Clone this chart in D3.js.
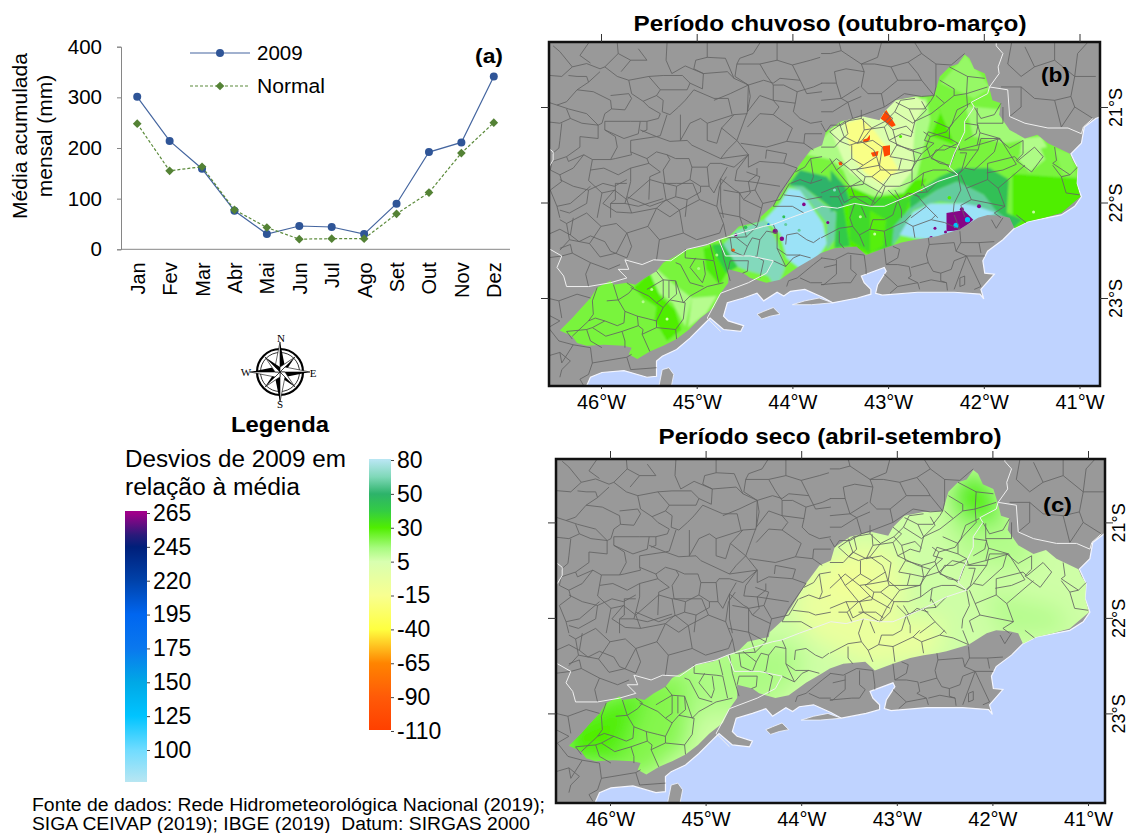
<!DOCTYPE html>
<html>
<head>
<meta charset="utf-8">
<script src="https://cdnjs.cloudflare.com/ajax/libs/d3/7.8.5/d3.min.js"></script>
<style>
  body { margin: 0; background: #fff; }
  svg { display: block; font-family: "Liberation Sans", Arial, sans-serif; }
</style>
</head>
<body>
<svg id="chart" width="1130" height="833"></svg>
<script>
// chart (a)
const months = ['Jan','Fev','Mar','Abr','Mai','Jun','Jul','Ago','Set','Out','Nov','Dez'];
const rain2009 = [301,214,159,76,30,46,44,30,90,192,211,341];
const rainNormal = [248,155,163,78,43,20,21,21,70,112,190,250];
const rainTicks = [0,100,200,300,400];

// legend
const legendHigh = [265,245,220,195,175,150,125,100];
const legendLow = [80,50,30,5,-15,-40,-65,-90,-110];
const devStops = [-110,-90,-65,-40,-15,5,15,30,40,50,65,80,100,125,150,175,195,220,245,252,265];
const devColors = ['#ff4000','#ff5a08','#ff8400','#ffff40','#f8ff90','#d8ffb0','#a8fb80','#50ee00','#33cc44','#2db36a','#7fd8b8','#b8e6f2','#70dcff','#00c4ff','#00a8e6','#0a78ee','#0066f0','#0042aa','#001f7a','#2a1a7a','#a0008a'];

// maps, positions in degrees west / degrees south
const lonTicks = [46,45,44,43,42,41];
const latTicks = [21,22,23];

const basin = [[46.43,23.34],[46.3,23.21],[46.22,23.12],[46.11,23.0],[46.04,22.89],[45.9,22.82],[45.87,22.86],[45.73,22.84],[45.64,22.86],[45.54,22.79],[45.42,22.72],[45.35,22.63],[45.22,22.56],[45.1,22.49],[44.93,22.46],[44.77,22.39],[44.65,22.34],[44.56,22.25],[44.34,22.2],[44.33,22.15],[44.2,22.03],[44.11,21.9],[43.95,21.64],[43.81,21.45],[43.69,21.4],[43.65,21.26],[43.49,21.15],[43.35,21.12],[43.26,21.1],[43.09,21.14],[43.04,21.05],[42.92,20.93],[42.72,20.89],[42.52,20.88],[42.46,20.68],[42.36,20.58],[42.27,20.55],[42.2,20.45],[42.15,20.49],[42.1,20.6],[41.99,20.65],[41.94,20.81],[41.91,20.93],[41.82,20.96],[41.84,21.08],[41.73,21.24],[41.57,21.33],[41.44,21.29],[41.33,21.38],[41.1,21.49],[41.07,21.56],[41.02,21.64],[41.03,21.8],[40.99,21.94],[41.19,22.11],[41.37,22.16],[41.54,22.2],[41.68,22.27],[41.73,22.16],[41.82,22.14],[41.96,22.13],[42.06,22.16],[42.25,22.28],[42.48,22.35],[42.58,22.37],[42.72,22.39],[42.86,22.42],[43.04,22.48],[43.23,22.55],[43.33,22.46],[43.56,22.48],[43.7,22.53],[43.78,22.58],[43.95,22.68],[44.13,22.81],[44.27,22.84],[44.44,22.79],[44.51,22.74],[44.67,22.7],[44.67,22.84],[44.75,22.95],[44.82,23.1],[44.96,23.21],[45.08,23.33],[45.21,23.43],[45.35,23.5],[45.49,23.56],[45.62,23.64],[45.71,23.59],[45.68,23.52],[45.76,23.5],[45.97,23.49],[46.15,23.5],[46.25,23.47],[46.3,23.4]];

const ocean = [[46.13,24.05],[46.15,23.92],[46.11,23.83],[45.99,23.78],[45.76,23.76],[45.52,23.83],[45.42,23.82],[45.42,23.66],[45.36,23.61],[45.21,23.54],[45.07,23.42],[44.93,23.28],[44.86,23.21],[44.72,23.33],[44.54,23.35],[44.51,23.29],[44.67,23.24],[44.72,23.19],[44.68,23.05],[44.51,23.0],[44.37,22.95],[44.3,23.03],[44.16,22.94],[44.09,22.98],[44.02,22.93],[43.87,22.91],[43.69,22.99],[43.58,23.05],[43.32,23.0],[43.18,22.96],[43.18,22.91],[43.25,22.84],[43.28,22.77],[43.04,22.68],[43.02,22.72],[43.11,22.86],[43.13,22.95],[43.06,22.97],[42.69,22.94],[42.31,22.94],[42.04,22.96],[42.0,23.01],[42.03,22.91],[41.89,22.75],[41.99,22.74],[42.01,22.61],[41.96,22.51],[41.8,22.39],[41.68,22.27],[41.54,22.2],[41.19,22.13],[41.05,22.04],[40.98,21.94],[41.03,21.8],[41.02,21.64],[41.09,21.49],[40.98,21.38],[40.95,21.21],[40.83,21.12],[40.5,21.0],[40.5,24.05]];

const islands = [
  [[44.37,23.17],[44.3,23.14],[44.2,23.1],[44.13,23.17],[44.23,23.19],[44.32,23.22]],
  [[44.0,23.07],[43.87,23.03],[43.72,23.0],[43.58,23.05],[43.8,23.07]],
  [[45.42,24.05],[45.36,23.75],[45.29,23.73],[45.24,23.8],[45.29,24.05]]
];

const stateLines = [
  [[41.87,20.3],[41.87,20.36],[41.8,20.44],[41.85,20.58],[41.84,20.65],[41.94,20.79],[41.75,20.82],[41.73,21.1],[41.57,21.17],[41.33,21.22],[41.12,21.22],[40.98,21.28],[40.96,21.21],[40.86,21.12]],
  [[41.94,20.79],[41.96,20.86],[42.13,20.95],[42.1,21.0],[42.2,21.15],[42.2,21.26],[42.31,21.49],[42.36,21.63],[42.27,21.71],[42.48,21.78],[42.76,21.92],[43.04,22.04],[43.18,22.04],[43.35,22.01],[43.53,22.06],[43.69,22.04],[43.88,22.11],[44.02,22.16],[44.2,22.23],[44.3,22.25],[44.61,22.34],[44.77,22.39],[44.89,22.44],[45.1,22.49],[45.27,22.61],[45.45,22.6],[45.57,22.65],[45.75,22.6],[45.71,22.7],[45.82,22.7],[45.73,22.79],[45.9,22.84],[46.13,22.88],[46.36,22.88],[46.39,22.77],[46.46,22.68],[46.41,22.56],[46.55,22.48]],
  [[44.77,22.39],[44.7,22.56],[44.44,22.56],[44.2,22.61],[44.27,22.74],[44.46,22.84],[44.75,22.95],[44.89,23.21],[44.75,23.35]],
  [[46.55,21.43],[46.5,21.47],[46.5,21.555],[46.55,21.64]]
];

const municipios = [
  [[46.565,20.667],[46.41,20.68],[46.3,20.58],[46.43,20.42],[46.5,20.36]],
  [[46.3,20.58],[46.15,20.545],[46.01,20.6],[45.96,20.58],[45.82,20.44],[45.83,20.33]],
  [[45.96,20.58],[45.83,20.68],[45.71,20.72],[45.5,20.68],[45.35,20.67],[45.15,20.67],[45.07,20.75],[44.94,20.81],[44.93,20.65],[45.05,20.6],[45.12,20.57],[45.26,20.65]],
  [[45.31,20.33],[45.32,20.51],[45.26,20.65]],
  [[44.89,20.33],[44.89,20.48],[45.01,20.51],[45.03,20.6],[44.93,20.65],[44.68,20.63],[44.61,20.7],[44.46,20.77]],
  [[44.89,20.48],[44.7,20.49],[44.61,20.7]],
  [[44.58,20.55],[44.55,20.49],[44.41,20.44],[44.34,20.33]],
  [[44.46,20.77],[44.3,20.72],[44.2,20.75],[44.13,20.7],[43.92,20.72],[43.85,20.86],[43.69,20.84]],
  [[46.565,20.946],[46.46,20.98],[46.36,20.945],[46.25,20.82],[46.13,20.74],[46.15,20.68],[46.25,20.68],[46.34,20.67]],
  [[46.13,20.74],[46.01,20.63]],
  [[46.25,20.82],[46.08,20.84],[45.9,20.93],[45.89,21.02],[45.75,21.03],[45.68,20.91],[45.71,20.86],[45.9,20.88]],
  [[45.71,20.72],[45.68,20.86],[45.56,20.94],[45.42,20.88],[45.38,20.82],[45.5,20.68]],
  [[45.38,20.82],[45.1,20.82],[45.07,20.75]],
  [[45.42,20.88],[45.35,20.93],[45.36,21.05],[45.28,21.08],[45.19,21.0],[45.12,20.93],[45.03,20.82]],
  [[45.56,20.94],[45.5,21.0],[45.38,21.07],[45.4,21.12],[45.52,21.15],[45.52,21.24],[45.57,21.26]],
  [[45.89,21.02],[45.96,21.07],[45.99,21.17],[46.03,21.19],[46.15,21.07],[46.34,21.02],[46.46,20.98]],
  [[45.96,21.15],[45.69,21.15],[45.59,21.15],[45.52,21.15]],
  [[46.03,21.19],[46.2,21.17],[46.32,21.12],[46.36,21.02]],
  [[46.565,21.155],[46.43,21.17],[46.32,21.12]],
  [[46.41,21.17],[46.43,21.35],[46.44,21.43],[46.51,21.49]],
  [[46.03,21.19],[46.03,21.33],[46.22,21.31],[46.22,21.42],[46.36,21.52],[46.34,21.57],[46.18,21.5],[46.09,21.55],[45.9,21.55],[45.83,21.42],[45.85,21.31],[45.96,21.24],[45.96,21.15]],
  [[45.96,21.24],[45.76,21.33],[45.61,21.28],[45.59,21.15]],
  [[45.69,21.35],[45.42,21.31],[45.28,21.36],[45.1,21.35],[45.05,21.4],[44.75,21.54],[44.46,21.5]],
  [[45.69,21.35],[45.69,21.47],[45.52,21.54],[45.42,21.47],[45.31,21.5],[45.22,21.54],[45.08,21.54],[45.05,21.63],[44.89,21.63],[44.86,21.59],[44.75,21.59],[44.61,21.63],[44.46,21.5]],
  [[45.59,21.24],[45.42,21.31],[45.38,21.3],[45.31,21.08]],
  [[45.17,21.08],[45.17,21.35],[45.07,21.17],[44.96,21.12],[44.89,21.17],[44.61,21.08],[44.47,21.07]],
  [[44.89,21.17],[44.89,21.35],[44.79,21.38],[44.74,21.22],[44.61,21.08]],
  [[44.82,20.93],[44.65,20.86],[44.46,20.77],[44.47,21.05],[44.54,21.24],[44.58,21.35],[44.46,21.5]],
  [[45.03,20.82],[44.82,20.91],[44.67,20.91],[44.63,21.08]],
  [[44.74,21.22],[44.58,21.35],[44.68,21.45],[44.75,21.54]],
  [[44.54,21.38],[44.27,21.42],[44.06,21.36],[44.0,21.22],[44.2,21.08],[44.34,21.07],[44.47,21.21]],
  [[44.46,20.77],[44.44,20.89],[44.47,21.05],[44.34,20.88],[44.2,20.93],[44.14,21.0],[44.2,21.08]],
  [[44.2,20.77],[44.2,20.93],[43.97,20.96],[43.95,20.84],[44.09,20.77],[44.2,20.77]],
  [[43.95,20.84],[43.78,20.79],[43.69,20.75]],
  [[44.58,20.55],[44.6,20.68],[44.46,20.77]],
  [[44.58,20.55],[44.34,20.55],[44.27,20.67],[44.2,20.77]],
  [[44.34,20.55],[44.16,20.51],[44.0,20.56],[43.92,20.72]],
  [[44.16,20.51],[44.16,20.33]],
  [[44.0,20.56],[43.81,20.51],[43.71,20.48]],
  [[43.97,20.96],[43.99,21.05],[43.92,21.12],[43.81,21.17],[43.69,21.15]],
  [[44.06,21.36],[43.88,21.38],[43.78,21.45]],
  [[43.88,21.38],[43.87,21.28],[43.69,21.28]],
  [[44.46,21.5],[44.46,21.63],[44.34,21.57],[44.09,21.59],[44.06,21.49],[44.27,21.45],[44.28,21.54]],
  [[44.46,21.5],[44.58,21.66],[44.6,21.77],[44.46,21.78],[44.44,21.9],[44.51,21.97],[44.32,22.06]],
  [[44.09,21.59],[43.95,21.64],[44.13,21.9],[44.2,22.04]],
  [[44.37,21.64],[44.37,21.71],[44.46,21.78],[44.13,21.83]],
  [[44.75,21.75],[44.68,21.63]],
  [[44.75,21.75],[44.6,21.87],[44.56,21.89],[44.51,21.97]],
  [[44.89,21.63],[44.87,21.83],[44.82,21.9],[44.75,21.75]],
  [[44.75,21.75],[44.75,22.01],[44.72,22.16]],
  [[45.05,21.63],[45.07,21.76],[44.96,21.83],[44.87,21.83]],
  [[45.31,21.5],[45.28,21.55],[45.35,21.66],[45.33,21.8],[45.21,21.83],[45.07,21.76]],
  [[45.21,21.83],[45.22,21.94],[45.1,21.97],[44.96,21.89],[44.96,21.83]],
  [[45.1,21.97],[45.12,22.15]],
  [[45.52,21.54],[45.5,21.59],[45.69,21.64],[45.69,21.78],[45.73,21.94],[45.49,22.04],[45.22,21.94]],
  [[45.5,21.59],[45.38,21.68],[45.49,21.73],[45.5,21.97]],
  [[45.9,21.55],[45.85,21.54],[45.68,21.5],[45.69,21.47]],
  [[46.09,21.55],[46.11,21.66],[45.97,21.64],[45.82,21.71],[45.69,21.64]],
  [[46.11,21.66],[46.13,21.77],[45.99,21.9],[45.85,21.87],[45.85,21.8],[45.73,21.8]],
  [[46.36,21.52],[46.51,21.57],[46.53,21.66],[46.43,21.71],[46.29,21.64],[46.18,21.5]],
  [[46.43,21.71],[46.41,21.78],[46.53,21.87],[46.46,22.04],[46.32,22.01],[46.11,21.83]],
  [[45.99,21.9],[46.04,22.16]],
  [[45.85,21.87],[45.85,21.97],[45.9,22.01],[45.9,22.16]],
  [[45.73,21.94],[45.75,22.01],[45.9,22.01]],
  [[45.75,22.01],[45.61,22.04],[45.35,21.96]],
  [[46.46,22.04],[46.43,22.16]],
  [[46.13,20.33],[46.22,20.46],[46.11,20.54]],
  [[45.82,20.44],[45.69,20.51],[45.52,20.51],[45.61,20.39]],
  [[45.69,20.51],[45.79,20.63]],
  // cinza, entre 21.7S e 22.6S
  [[46.43,22.08],[46.33,22.11],[46.15,22.01],[46.13,21.87],[45.98,21.8],[45.86,21.83],[45.73,21.76]],
  [[46.13,21.87],[46.29,21.83],[46.43,21.76]],
  [[45.98,22.01],[45.86,21.87],[45.73,21.97],[45.68,22.11],[45.84,22.1],[45.98,22.01]],
  [[45.68,22.11],[45.42,22.06],[45.28,22.15],[45.18,22.08],[45.32,21.97],[45.42,22.06]],
  [[45.32,21.97],[45.35,21.8],[45.49,21.76],[45.73,21.97]],
  [[45.18,22.08],[44.97,21.97],[44.79,22.04],[44.76,21.83],[44.69,21.73]],
  [[44.97,21.97],[45.04,21.8],[45.21,21.8],[45.35,21.8]],
  [[44.79,22.04],[44.72,22.22],[44.69,22.37]],
  [[45.18,22.08],[45.14,22.32],[45.0,22.39],[44.76,22.32],[44.72,22.22]],
  [[45.42,22.06],[45.51,22.25],[45.39,22.39],[45.14,22.32]],
  [[45.39,22.39],[45.42,22.6]],
  [[45.51,22.25],[45.73,22.32],[45.84,22.22],[46.0,22.25],[46.15,22.11]],
  [[45.73,22.32],[45.68,22.46],[45.73,22.58]],
  [[46.0,22.25],[46.12,22.43],[46.01,22.57],[45.84,22.53],[45.73,22.32]],
  [[46.12,22.43],[46.33,22.39],[46.43,22.5]],
  [[46.33,22.39],[46.36,22.22],[46.43,22.18]],
  [[46.36,22.22],[46.15,22.11]],
  [[44.69,22.37],[44.48,22.36],[44.37,22.25],[44.31,22.01],[44.39,21.87],[44.55,21.9],[44.72,21.87]],
  [[44.48,22.36],[44.55,22.15],[44.76,22.11]],
  [[44.55,21.9],[44.55,22.15],[44.37,22.25]],
  [[44.39,21.87],[44.34,21.73],[44.48,21.68]],
  [[44.31,22.01],[44.13,21.97],[44.03,21.8]],
  // norte e leste
  [[43.7,20.44],[43.6,20.44],[43.49,20.41],[43.51,20.33]],
  [[43.49,20.41],[43.28,20.55],[43.11,20.48],[43.07,20.33]],
  [[43.28,20.55],[43.25,20.63],[43.44,20.6],[43.56,20.63],[43.54,20.75],[43.7,20.75]],
  [[43.25,20.63],[43.28,20.79],[43.21,20.86],[43.07,20.86],[42.9,20.72],[42.97,20.58],[43.14,20.55],[43.28,20.55]],
  [[43.54,20.75],[43.49,20.91],[43.3,20.79]],
  [[42.97,20.58],[42.79,20.53],[42.65,20.44],[42.72,20.33]],
  [[42.79,20.53],[42.69,20.65],[42.65,20.72],[42.9,20.72]],
  [[42.65,20.44],[42.5,20.55],[42.34,20.56],[42.2,20.44]],
  [[42.5,20.55],[42.5,20.79],[42.52,20.88],[42.65,20.72]],
  [[43.07,20.86],[43.04,21.0],[42.83,20.86],[42.65,20.89],[42.52,20.88]],
  [[43.7,20.93],[43.49,20.91],[43.42,20.95],[43.28,20.89]],
  [[43.7,21.05],[43.58,21.05],[43.42,20.95]],
  [[43.42,20.95],[43.37,21.12],[43.25,21.08],[43.04,21.0]],
  [[43.7,21.17],[43.65,21.26],[43.6,21.19],[43.49,21.19],[43.37,21.12]],
  [[41.82,20.79],[41.61,20.79],[41.61,21.0],[41.73,21.1]],
  [[41.61,20.79],[41.47,20.91],[41.26,20.93],[41.19,21.21]],
  [[41.26,20.93],[41.09,20.89],[41.05,20.68],[40.83,20.68]],
  [[41.05,20.68],[41.26,20.51],[41.47,20.58],[41.61,20.68]],
  [[41.26,20.51],[41.26,20.33]],
  [[41.47,20.58],[41.57,20.37]],
  [[41.75,20.55],[41.61,20.68]],
  [[41.75,20.55],[41.71,20.33]],
  [[41.09,20.89],[41.05,21.0],[40.86,21.12]],
  [[41.05,21.0],[41.19,21.21]],
  [[41.05,20.68],[41.02,20.44],[40.92,20.33]],
  // sul da bacia, oeste
  [[46.565,22.58],[46.41,22.56],[46.3,22.53],[46.32,22.44],[46.43,22.48]],
  [[46.3,22.53],[46.11,22.63],[45.92,22.7],[45.8,22.65]],
  [[46.11,22.63],[46.16,22.75],[46.13,22.88]],
  [[46.32,22.34],[46.23,22.41],[46.11,22.35],[45.96,22.41],[45.9,22.51],[45.73,22.58]],
  [[46.565,22.34],[46.43,22.28],[46.32,22.34],[46.29,22.16]],
  [[46.565,23.61],[46.43,23.57],[46.41,23.68],[46.29,23.49],[46.11,23.52],[46.09,23.68],[45.73,23.62],[45.68,23.59]],
  [[46.09,23.68],[46.13,23.8],[46.22,23.85],[46.18,23.92]],
  [[46.43,23.57],[46.32,23.66],[46.41,23.75],[46.43,23.83]],
  [[46.565,23.17],[46.43,23.24],[46.55,23.31],[46.44,23.45],[46.29,23.49]],
  [[45.73,23.62],[45.69,23.75],[45.42,23.73]],
  [[46.565,23.0],[46.44,23.03],[46.25,22.96],[46.11,23.0]],
  [[46.44,23.03],[46.41,23.21]],
  // dentro da bacia, oeste
  [[46.04,22.89],[46.09,23.03],[46.08,23.17],[46.13,23.24],[46.3,23.4]],
  [[46.13,23.24],[46.06,23.21],[45.96,23.24],[45.83,23.29],[45.76,23.26],[45.75,23.14],[45.82,23.02],[45.71,22.95],[45.66,22.89],[45.73,22.84]],
  [[45.94,23.03],[45.82,23.02],[45.87,22.86]],
  [[46.09,23.31],[46.15,23.33],[46.11,23.45],[45.99,23.52]],
  [[46.15,23.33],[46.36,23.35],[46.3,23.43]],
  [[45.96,23.24],[46.09,23.31],[45.95,23.4],[45.78,23.35],[45.75,23.45],[45.75,23.52]],
  [[45.78,23.35],[45.61,23.29],[45.62,23.19],[45.75,23.14]],
  [[45.61,23.29],[45.56,23.33],[45.57,23.38],[45.49,23.56]],
  [[45.62,23.19],[45.5,23.22],[45.42,23.24],[45.35,23.1],[45.42,23.05],[45.5,22.98],[45.69,22.89]],
  [[45.57,23.38],[45.42,23.31],[45.22,23.33],[45.14,23.22],[45.12,23.05],[45.28,23.02],[45.35,23.1]],
  [[45.42,23.24],[45.42,23.31]],
  [[45.22,23.33],[45.21,23.43]],
  [[45.52,22.91],[45.35,22.81],[45.42,22.72]],
  [[45.35,22.81],[45.35,23.0],[45.42,23.05]],
  [[45.35,22.81],[45.22,22.82],[45.21,22.96],[45.28,23.02]],
  [[45.29,22.82],[45.29,23.0]],
  [[45.22,22.82],[45.14,23.05],[45.07,22.98],[44.89,22.88],[44.72,22.84]],
  [[45.22,22.63],[45.17,22.65],[45.07,22.84],[44.93,22.88]],
  [[45.12,22.49],[45.12,22.58],[44.89,22.6],[44.82,22.61],[44.77,22.84]],
  [[45.01,22.58],[45.07,22.68],[44.94,22.84],[44.91,22.75],[44.93,22.61]],
  [[44.86,22.44],[44.82,22.6]],
  [[44.75,22.39],[44.72,22.58],[44.65,22.82]],
  [[44.67,22.7],[44.65,22.61],[44.46,22.61],[44.47,22.72],[44.52,22.74]],
  [[44.65,22.37],[44.63,22.51],[44.51,22.56],[44.47,22.46],[44.61,22.35]],
  [[44.37,22.56],[44.34,22.39],[44.42,22.37],[44.47,22.46]],
  [[44.34,22.39],[44.27,22.3],[44.16,22.32],[44.2,22.23]],
  [[44.16,22.32],[44.16,22.48],[44.07,22.67],[44.2,22.61]],
  [[44.16,22.48],[44.06,22.55],[43.92,22.55],[43.81,22.58]],
  [[44.07,22.44],[44.06,22.34],[43.95,22.32],[43.85,22.39],[43.78,22.42],[43.71,22.37]],
  [[44.34,22.79],[44.3,22.61],[44.39,22.56]],
  [[44.07,22.67],[43.99,22.58],[43.92,22.55]],
  // sul da bacia, leste
  [[43.7,22.37],[43.51,22.27],[43.37,22.25],[43.3,22.34],[43.25,22.46]],
  [[43.51,22.3],[43.51,22.42],[43.46,22.48]],
  [[43.37,22.25],[43.4,22.16],[43.35,22.01]],
  [[43.3,22.34],[43.19,22.28],[43.16,22.18],[43.04,22.18],[42.95,22.13],[42.9,21.97]],
  [[43.19,22.28],[43.04,22.3],[43.02,22.46]],
  [[43.04,22.3],[42.83,22.2],[42.76,22.13]],
  [[42.83,22.2],[42.74,22.25],[42.72,22.37]],
  [[42.74,22.25],[42.55,22.18],[42.5,22.13]],
  [[42.55,22.18],[42.41,22.21],[42.25,22.28]],
  [[42.31,22.13],[42.25,22.28]],
  [[41.92,22.18],[41.87,22.27],[41.8,22.16]],
  [[41.66,22.13],[41.56,22.21]],
  // fluminense, cinza
  [[43.7,22.58],[43.56,22.6],[43.42,22.53],[43.25,22.55]],
  [[43.54,22.6],[43.54,22.75],[43.67,22.86],[43.7,22.86]],
  [[43.67,22.68],[43.54,22.65]],
  [[43.39,22.55],[43.39,22.7],[43.33,22.75],[43.39,22.84],[43.47,22.84],[43.7,22.86]],
  [[43.25,22.55],[43.23,22.7],[43.23,22.75]],
  [[43.04,22.48],[43.02,22.65],[42.9,22.58],[42.88,22.49],[42.95,22.46]],
  [[43.02,22.65],[42.9,22.65],[42.78,22.67],[42.76,22.77],[42.79,22.79],[42.69,22.84]],
  [[43.04,22.75],[42.9,22.88],[42.98,22.95]],
  [[42.9,22.88],[42.69,22.84],[42.67,22.91]],
  [[42.76,22.68],[42.58,22.63],[42.53,22.72],[42.45,22.74],[42.34,22.7],[42.31,22.61],[42.18,22.56],[42.29,22.51]],
  [[42.58,22.63],[42.6,22.55],[42.57,22.44],[42.31,22.42],[42.29,22.51],[42.24,22.42],[42.25,22.3]],
  [[42.58,22.37],[42.57,22.44]],
  [[42.45,22.74],[42.45,22.82],[42.39,22.84],[42.38,22.92]],
  [[42.67,22.84],[42.55,22.81],[42.39,22.84]],
  [[42.18,22.56],[42.31,22.91]],
  [[42.18,22.56],[42.03,22.88],[42.1,22.91]],
  [[42.18,22.56],[41.99,22.56]],
  [[42.24,22.42],[42.05,22.42],[41.89,22.41]],
  [[42.05,22.42],[42.03,22.53]],
  [[42.25,22.79],[42.2,22.77],[42.2,22.86],[42.25,22.88],[42.25,22.79]],
  [[43.69,22.58],[43.78,22.65],[43.95,22.79],[44.04,22.82],[44.06,22.88]],
  [[43.92,22.79],[43.81,22.84],[43.69,22.84]],
  // centro da bacia
  [[43.97,21.68],[43.87,21.63],[43.81,21.54],[43.69,21.52]],
  [[44.02,21.8],[43.92,21.76],[43.81,21.8],[43.69,21.76]],
  [[44.09,21.92],[43.92,21.94],[43.85,21.97],[43.69,21.94]],
  [[44.2,22.04],[44.0,22.04],[43.88,22.11]],
  [[43.81,21.54],[43.78,21.73],[43.81,21.8]],
  [[43.7,21.42],[43.56,21.42],[43.46,21.31],[43.32,21.38],[43.16,21.35],[43.06,21.42]],
  [[43.46,21.31],[43.51,21.17]],
  [[43.32,21.38],[43.25,21.24],[43.26,21.12]],
  [[43.25,21.24],[43.04,21.21],[42.95,21.12],[43.04,21.05]],
  [[43.04,21.21],[42.99,21.35],[42.86,21.28],[42.76,21.31],[42.72,21.15],[42.78,21.02],[42.92,20.95]],
  [[42.78,21.02],[42.62,21.02],[42.55,20.93],[42.52,20.88]],
  [[42.72,21.15],[42.55,21.07],[42.41,20.96],[42.5,20.88]],
  [[42.41,20.96],[42.31,20.88],[42.18,20.86],[41.96,20.79]],
  [[42.46,20.72],[42.31,20.81],[42.31,20.88]],
  [[42.36,20.58],[42.17,20.68],[42.18,20.86]],
  [[42.17,20.68],[41.99,20.7]],
  [[42.18,20.86],[42.17,21.0],[42.31,21.15],[42.36,21.22],[42.52,21.15]],
  [[42.36,21.22],[42.36,21.33],[42.58,21.26],[42.62,21.35],[42.52,21.38]],
  [[42.1,21.0],[42.03,21.12],[41.89,21.08],[41.82,20.96]],
  [[42.2,21.17],[42.06,21.19],[42.08,21.28],[42.2,21.35]],
  [[42.36,21.33],[42.27,21.38],[42.41,21.45],[42.5,21.45],[42.55,21.54],[42.41,21.59],[42.36,21.63]],
  [[42.27,21.38],[42.25,21.45],[42.06,21.45],[42.03,21.33],[41.85,21.33],[41.73,21.43],[41.59,21.35]],
  [[42.06,21.45],[42.2,21.64],[42.1,21.66],[41.89,21.47],[41.85,21.33]],
  [[42.27,21.71],[42.2,21.64]],
  [[42.24,21.71],[42.18,21.85],[41.96,21.76],[41.96,21.59],[41.68,21.52],[41.64,21.56],[41.47,21.42],[41.38,21.52],[41.5,21.68],[41.66,21.56]],
  [[41.96,21.76],[41.85,21.85],[41.57,21.61]],
  [[41.59,21.35],[41.59,21.49],[41.66,21.56]],
  [[41.26,21.42],[41.24,21.56],[41.28,21.59],[41.1,21.71],[41.02,21.63]],
  [[41.1,21.71],[41.19,21.73],[41.14,21.9],[41.0,21.92]],
  [[41.19,21.73],[41.28,21.61]],
  [[41.85,21.85],[41.78,22.04],[41.89,22.11],[41.82,22.16]],
  [[42.18,21.85],[42.13,21.97],[42.24,22.03],[42.2,22.15]],
  [[42.13,21.97],[41.78,22.04]],
  [[42.27,21.71],[42.24,21.87],[42.31,22.01],[42.32,22.11]],
  [[42.48,21.78],[42.59,21.89],[42.72,21.9],[42.6,22.04],[42.48,22.16]],
  [[42.64,21.8],[42.59,21.89]],
  [[42.72,21.9],[42.9,21.97],[43.0,21.87]],
  [[43.54,21.54],[43.39,21.66],[43.25,21.8],[43.07,21.9]],
  [[43.39,21.66],[43.25,21.64],[43.09,21.61],[42.97,21.71],[42.76,21.66],[42.65,21.49],[42.52,21.38]],
  [[43.06,21.42],[43.09,21.61]],
  [[42.99,21.35],[42.78,21.45],[42.65,21.49]],
  [[43.28,21.77],[43.39,21.83],[43.35,21.94],[43.18,22.04]],
  [[43.18,22.04],[43.11,21.9],[42.97,21.71]],
  [[43.7,21.69],[43.54,21.54]],
  [[43.7,21.9],[43.53,21.83],[43.46,22.0],[43.35,21.94]],
  [[43.53,21.83],[43.39,21.83]],
  [[42.9,21.97],[42.86,22.08],[42.86,22.16]],
  [[42.6,22.04],[42.76,22.16]],
  [[43.28,22.04],[43.23,22.16]],
  // municipios pequenos do centro
  [[43.61,21.26],[43.45,21.15],[43.28,21.12],[43.17,21.22],[43.03,21.15],[42.93,21.05]],
  [[43.45,21.15],[43.42,21.28],[43.5,21.36],[43.4,21.4],[43.28,21.36],[43.17,21.22]],
  [[43.38,21.4],[43.38,21.54],[43.26,21.61],[43.12,21.52],[43.15,21.45],[43.28,21.36]],
  [[43.26,21.61],[43.33,21.66],[43.24,21.73],[43.17,21.73],[43.08,21.66],[43.12,21.52]],
  [[43.08,21.66],[42.89,21.66],[42.86,21.54],[42.98,21.52],[42.91,21.4],[42.95,21.24],[43.03,21.15]],
  [[42.95,21.24],[42.81,21.2],[42.74,21.27]],
  [[42.91,21.4],[42.74,21.45],[42.6,21.41],[42.56,21.31],[42.63,21.26]],
  [[42.86,21.54],[42.72,21.57],[42.74,21.45]],
  [[42.89,21.66],[42.75,21.66],[42.72,21.57]],
  [[42.75,21.66],[42.75,21.78],[42.88,21.83],[43.03,21.83],[43.17,21.73]],
  [[43.03,21.83],[43.07,21.94],[43.17,22.04]],
  [[43.24,21.73],[43.26,21.81],[43.4,21.83],[43.54,21.66],[43.61,21.54]],
  [[43.54,21.66],[43.38,21.54]],
  [[43.61,21.26],[43.5,21.36]],
  [[43.28,21.03],[43.28,21.12]],
  [[42.93,21.05],[42.87,20.93],[42.72,20.91]],
  [[42.93,21.05],[42.74,21.17],[42.7,21.13],[42.6,21.03],[42.65,20.94]],
  [[42.56,21.31],[42.39,21.26],[42.33,21.17],[42.28,21.03],[42.14,20.96]],
  [[42.56,21.52],[42.42,21.4],[42.28,21.43],[42.35,21.61],[42.46,21.59],[42.56,21.52]],
  [[42.6,21.41],[42.56,21.52],[42.72,21.57]],
  [[42.63,21.69],[42.53,21.66],[42.39,21.66],[42.28,21.71]],
  [[42.75,21.78],[42.63,21.69],[42.65,21.83]],
  [[42.27,21.45],[42.07,21.4],[41.83,21.33],[41.66,21.6],[41.8,21.66],[41.97,21.69]],
  [[42.25,21.48],[42.18,21.48],[42.23,21.66],[42.28,21.71]],
  [[42.04,21.27],[41.83,21.33]],
  [[42.07,21.4],[42.04,21.27],[42.07,21.17],[41.8,21.17],[41.8,21.0]],
  [[42.07,21.01],[42.07,21.17]],
  [[43.61,21.94],[43.52,21.94],[43.4,21.83]],
  [[43.52,21.94],[43.47,22.04]],
  [[43.4,21.94],[43.22,21.94],[43.14,22.0]],
  [[42.93,21.87],[42.87,21.97],[42.79,21.9],[42.67,21.94]]
];

// desvios por zona, periodo chuvoso (b)
const wetBase = 23;
const wetZones = [
  {v:14, pts:[[45.42,22.69],[45.26,22.84],[45.05,23.0],[45.12,23.3],[45.25,23.05],[45.39,22.95],[45.49,22.74]]},
  {v:12, pts:[[45.05,23.0],[44.79,22.98],[44.9,23.16],[45.09,23.31]]},
  {v:30, pts:[[45.49,22.74],[45.66,22.89],[45.56,23.0],[45.42,23.09],[45.44,23.23],[45.31,23.45],[45.16,23.33],[45.23,23.12],[45.39,22.97]]},
  {v:31, pts:[[44.93,22.48],[44.79,22.44],[44.65,22.64],[44.69,22.74],[44.76,22.86],[44.9,22.7]]},
  {v:40, pts:[[44.84,22.44],[44.72,22.43],[44.57,22.67],[44.69,22.74],[44.79,22.57]]},
  {v:66, pts:[[44.72,22.44],[44.58,22.29],[44.29,22.18],[44.17,22.39],[44.08,22.69],[44.17,22.91],[44.25,22.77],[44.48,22.71],[44.57,22.67]]},
  {v:88, pts:[[44.29,22.18],[44.13,22.01],[44.04,21.85],[43.92,21.87],[43.68,22.22],[43.64,22.43],[43.75,22.6],[43.92,22.69],[44.06,22.58],[44.13,22.32]]},
  {v:62, pts:[[44.04,21.82],[43.89,21.83],[43.68,22.01],[43.54,22.11],[43.56,22.39],[43.64,22.5],[43.64,22.22],[43.92,21.87]]},
  {v:50, pts:[[43.92,21.66],[43.64,21.73],[43.43,22.01],[43.54,22.1],[43.68,21.99],[43.89,21.83],[44.04,21.82]]},
  {v:41, pts:[[43.54,22.1],[43.4,21.94],[43.4,22.46],[43.56,22.48]]},
  {v:30, pts:[[43.5,21.85],[42.6,21.75],[42.77,22.1],[43.2,22.55],[43.4,22.46]]},
  {v:36, pts:[[43.4,21.94],[42.77,21.96],[42.95,22.46],[43.19,22.53],[43.4,22.39]]},
  {v:29, pts:[[43.19,22.08],[43.02,22.18],[43.05,22.46],[43.19,22.53]]},
  {v:48, pts:[[43.6,21.66],[43.45,21.83],[43.4,22.0],[43.6,22.1]]},
  {v:14, pts:[[43.6,21.24],[42.98,20.93],[42.6,20.91],[42.56,21.14],[42.7,21.73],[42.84,21.9],[43.15,21.94],[43.4,21.83],[43.47,21.66],[43.6,21.55],[43.85,21.5]]},
  {v:3, pts:[[43.6,21.24],[43.28,21.03],[43.08,21.03],[42.98,20.93],[42.7,20.89],[42.6,20.96],[42.72,21.17],[42.74,21.48],[42.74,21.66],[42.88,21.83],[43.08,21.9],[43.4,21.68],[43.47,21.55]]},
  {v:-18, pts:[[43.45,21.17],[43.28,21.12],[43.15,21.24],[43.03,21.4],[42.89,21.66],[43.08,21.8],[43.24,21.69],[43.36,21.54],[43.42,21.34]]},
  {v:30, pts:[[42.5,20.95],[42.3,21.4],[42.55,21.3],[42.45,21.05]]},
  {v:18, pts:[[42.19,20.45],[41.93,20.8],[42.1,20.91],[42.45,20.75]]},
  {v:16, pts:[[42.19,20.99],[41.8,21.03],[41.56,21.34],[41.76,21.38],[42.11,21.31]]},
  {v:14, pts:[[41.62,21.49],[41.41,21.42],[41.36,21.55],[41.52,21.68],[41.64,21.55]]},
  {v:13, pts:[[41.6,21.33],[41.4,21.31],[41.34,21.42],[41.62,21.48]]},
  {v:20, pts:[[41.27,21.43],[41.08,21.49],[41.03,21.73],[41.17,21.71]]},
  {v:30, pts:[[41.7,21.7],[41.0,21.75],[40.95,22.0],[41.2,22.13],[41.7,22.28]]},
  {v:45, pts:[[42.46,21.73],[42.25,21.64],[41.94,21.64],[41.74,21.76],[41.76,22.11],[41.6,22.18],[41.69,22.27],[41.87,22.11],[42.0,21.92],[42.28,21.78],[42.49,21.87],[42.65,21.97],[42.77,22.08],[42.77,21.94]]},
  {v:60, pts:[[42.49,21.87],[42.28,21.78],[42.0,21.92],[41.87,22.09],[41.75,22.18],[42.0,22.15],[42.21,22.01],[42.46,21.99],[42.56,22.01],[42.74,22.08],[42.88,22.36],[42.96,22.46],[42.94,22.25],[42.77,22.06]]},
  {v:88, pts:[[42.56,22.01],[42.21,22.01],[42.07,22.04],[41.87,22.11],[42.0,22.17],[42.23,22.3],[42.54,22.39],[42.74,22.37],[42.88,22.34],[42.74,22.1]]}
];
const wetPatches = [
  {v:262, pts:[[42.39,22.11],[42.21,22.08],[42.11,22.18],[42.23,22.29],[42.39,22.3]]},
  {v:-105, pts:[[43.08,21.12],[43.02,21.03],[42.92,21.19],[42.96,21.21]]},
  {v:-105, pts:[[43.06,21.41],[42.98,21.4],[42.98,21.5],[43.04,21.52]]},
  {v:-105, pts:[[43.18,21.48],[43.1,21.46],[43.11,21.51],[43.16,21.52]]},
  {v:-105, pts:[[43.26,21.34],[43.22,21.33],[43.19,21.29],[43.19,21.34],[43.22,21.37],[43.26,21.37]]},
  {v:-105, pts:[[43.52,21.58],[43.48,21.57],[43.48,21.61],[43.51,21.61]]}
];
const wetStations = [
  [44.18,22.3,262,2.5],[44.11,22.38,262,2.2],[43.88,22.02,262,1.8],[43.63,22.21,262,1.5],[42.55,22.37,262,1.8],
  [42.51,22.27,262,1.5],[42.4,22.31,262,1.5],[42.05,22.04,262,2],[42.23,22.07,262,2],[44.59,22.34,262,1.4],
  [44.62,22.5,-90,1.8],[42.65,21.87,-70,1],[44.25,22.23,190,1.2],[42.29,22.24,125,2.6],[42.17,22.18,125,2.6],
  [44.79,22.55,14,1.5],[44.98,22.69,14,1.5],[45.31,23.22,5,1.5],[45.47,22.91,12,1.5],[45.56,23.04,12,1.5],
  [44.49,22.26,45,1.8],[44.09,22.15,45,1.5],[44.07,22.23,60,1.5],[43.93,22.29,60,1.5],[43.56,21.87,70,1.5],
  [42.87,21.31,30,1.5],[41.48,22.1,8,1.5],[43.14,22.33,8,1.5],[43.29,22.15,8,1.5],[42.36,21.95,30,1.8]
];

// desvios por zona, periodo seco (c)
const dryBase = 7;
const dryZones = [
  {v:-6, pts:[[43.9,21.5],[43.4,21.2],[43.0,21.3],[42.9,21.7],[43.0,22.05],[42.5,22.0],[42.6,22.4],[43.3,22.5],[43.9,22.2],[44.1,21.9]]},
  {v:-11, pts:[[43.6,21.4],[43.3,21.45],[43.3,21.8],[43.6,21.85],[43.75,21.65]]},
  {v:13, pts:[[42.55,20.95],[42.3,21.4],[41.8,21.5],[41.5,21.35],[41.8,20.9]]},
  {v:29, pts:[[42.5,20.7],[42.2,20.4],[41.9,20.7],[41.9,21.0],[42.3,21.0]]},
  {v:14, pts:[[44.0,22.3],[44.7,22.2],[45.2,22.4],[45.3,23.5],[44.7,23.0],[44.3,22.9],[44.0,22.6]]},
  {v:21, pts:[[45.2,22.5],[46.5,22.8],[46.6,23.6],[45.6,23.7],[45.2,23.3]]},
  {v:30, pts:[[45.6,22.7],[46.5,23.1],[46.5,23.5],[45.9,23.5]]},
  {v:8, pts:[[45.05,23.0],[44.75,22.95],[44.85,23.2],[45.1,23.33],[45.2,23.2]]},
  {v:12, pts:[[42.1,21.7],[41.3,21.9],[41.2,22.15],[41.9,22.2]]}
];

const svg = d3.select('#chart');
const devScale = d3.scaleLinear().domain(devStops).range(devColors);

// text squeezed to the width it has in the reference
function addText(x, y, str, size, width, opts){
  opts = opts || {};
  const t = svg.append('text').attr('x',x).attr('y',y).attr('font-size',size)
    .attr('text-anchor',opts.anchor || 'start')
    .attr('font-weight',opts.bold ? 'bold' : 'normal')
    .attr('xml:space','preserve').text(str);
  if(width){
    t.attr('textLength',width).attr('lengthAdjust','spacingAndGlyphs');
  }
  return t;
}

/* ---- line chart ---- */
const xMonth = d3.scalePoint().domain(months).range([121,510]).padding(0.5);
const yRain = d3.scaleLinear().domain([0,400]).range([249.3,46.7]);
const gA = svg.append('g');

gA.append('g').attr('transform','translate(121,0)')
  .call(d3.axisLeft(yRain).tickValues(rainTicks).tickSize(4).tickPadding(15))
  .call(g => g.selectAll('path,line').attr('stroke','#868686'))
  .call(g => g.selectAll('text').attr('font-size',20.5).attr('fill','#000').attr('font-family','Liberation Sans'));

gA.append('g').attr('transform','translate(0,249.3)')
  .call(d3.axisBottom(xMonth).tickSize(0))
  .call(g => g.select('path').attr('stroke','#868686').attr('d','M121,0H510'))
  .call(g => g.selectAll('text').attr('font-size',20).attr('fill','#000').attr('font-family','Liberation Sans')
    .attr('text-anchor','end').attr('dx',0).attr('dy',0)
    .attr('y',0).attr('transform','translate(7,13) rotate(-90)'));

const rainLine = d3.line().x((d,i)=>xMonth(months[i])).y(d=>yRain(d));
gA.append('path').attr('d',rainLine(rain2009)).attr('fill','none').attr('stroke','#44659f').attr('stroke-width',1.2);
gA.append('path').attr('d',rainLine(rainNormal)).attr('fill','none').attr('stroke','#5b8a3a').attr('stroke-width',1.2).attr('stroke-dasharray','3,2');

gA.selectAll('.m09').data(rain2009).enter().append('circle')
  .attr('cx',(d,i)=>xMonth(months[i])).attr('cy',d=>yRain(d)).attr('r',4).attr('fill','#2f5597');
const diamond = d3.symbol().type(d3.symbolDiamond2).size(48);
gA.selectAll('.mNormal').data(rainNormal).enter().append('path')
  .attr('d',diamond).attr('transform',(d,i)=>'translate('+xMonth(months[i])+','+yRain(d)+')').attr('fill','#548235');

// legend of the line chart
gA.append('line').attr('x1',190).attr('x2',250).attr('y1',53).attr('y2',53).attr('stroke','#44659f').attr('stroke-width',1.2);
gA.append('circle').attr('cx',220).attr('cy',53).attr('r',4).attr('fill','#2f5597');
gA.append('line').attr('x1',190).attr('x2',250).attr('y1',86).attr('y2',86).attr('stroke','#5b8a3a').attr('stroke-width',1.2).attr('stroke-dasharray','3,2');
gA.append('path').attr('d',diamond).attr('transform','translate(220,86)').attr('fill','#548235');
addText(257,60,'2009',20.5);
addText(257,93,'Normal',20.5,68);
addText(475,63,'(a)',21,28,{bold:true});

gA.append('text').attr('transform','translate(27,136) rotate(-90)').attr('text-anchor','middle').attr('font-size',21).text('Média acumulada');
gA.append('text').attr('transform','translate(52,136) rotate(-90)').attr('text-anchor','middle').attr('font-size',21).text('mensal (mm)');

/* ---- maps ---- */
const defs = svg.append('defs');
defs.append('filter').attr('id','blurWet').attr('x','-20%').attr('y','-20%').attr('width','140%').attr('height','140%')
  .append('feGaussianBlur').attr('stdDeviation',1.3);
defs.append('filter').attr('id','blurDry').attr('x','-30%').attr('y','-30%').attr('width','160%').attr('height','160%')
  .append('feGaussianBlur').attr('stdDeviation',11);

function drawMap(id, frame, xRange, yRange, latOffset, base, zones, blurId, patches, stations){
  const x = d3.scaleLinear().domain([46,41]).range(xRange);
  const y = d3.scaleLinear().domain([21,23]).range(yRange);
  const line = d3.line().x(d=>x(d[0])).y(d=>y(d[1]));
  const w = frame.x1 - frame.x0, h = frame.y1 - frame.y0;

  defs.append('clipPath').attr('id','frame'+id).append('rect')
    .attr('x',frame.x0).attr('y',frame.y0).attr('width',w).attr('height',h);
  defs.append('clipPath').attr('id','basin'+id).append('path').attr('d',line(basin)+'Z');

  const g = svg.append('g');
  const inner = g.append('g').attr('clip-path','url(#frame'+id+')');
  inner.append('rect').attr('x',frame.x0).attr('y',frame.y0).attr('width',w).attr('height',h).attr('fill','#999999');
  inner.append('path').attr('d',line(ocean)+'Z').attr('fill','#bfd3ff').attr('stroke','#f4f6ff').attr('stroke-width',1.2);
  inner.selectAll('.island').data(islands).enter().append('path')
    .attr('d',d=>line(d)+'Z').attr('fill','#999999').attr('stroke','#f4f6ff').attr('stroke-width',0.8);

  const field = inner.append('g').attr('clip-path','url(#basin'+id+')');
  const smooth = field.append('g').attr('filter','url(#'+blurId+')');
  smooth.append('rect').attr('x',frame.x0-40).attr('y',frame.y0-40).attr('width',w+80).attr('height',h+80).attr('fill',devScale(base));
  smooth.selectAll('.zone').data(zones).enter().append('path')
    .attr('d',d=>line(d.pts)+'Z').attr('fill',d=>devScale(d.v));
  field.selectAll('.patch').data(patches).enter().append('path')
    .attr('d',d=>line(d.pts)+'Z').attr('fill',d=>devScale(d.v));
  field.selectAll('.station').data(stations).enter().append('circle')
    .attr('cx',d=>x(d[0])).attr('cy',d=>y(d[1])).attr('r',d=>d[3]).attr('fill',d=>devScale(d[2]));

  inner.selectAll('.mun').data(municipios).enter().append('path')
    .attr('d',line).attr('fill','none').attr('stroke','#636363').attr('stroke-width',0.85).attr('stroke-linejoin','round');
  inner.selectAll('.state').data(stateLines).enter().append('path')
    .attr('d',line).attr('fill','none').attr('stroke','#f0f0f0').attr('stroke-width',1);

  g.append('rect').attr('x',frame.x0).attr('y',frame.y0).attr('width',w).attr('height',h)
    .attr('fill','none').attr('stroke','#111').attr('stroke-width',2.5);

  const fmtLon = d => d + '°W', fmtLat = d => d + '°S';
  const tickStyle = a => a.call(s => s.select('.domain').remove())
    .call(s => s.selectAll('line').attr('stroke','#333'));

  g.append('g').attr('transform','translate(0,'+frame.y0+')')
    .call(d3.axisTop(x).tickValues(lonTicks).tickSize(8).tickFormat('')).call(tickStyle);
  g.append('g').attr('transform','translate(0,'+frame.y1+')')
    .call(d3.axisBottom(x).tickValues(lonTicks).tickSize(3).tickPadding(6).tickFormat(fmtLon)).call(tickStyle)
    .call(s => s.selectAll('text').attr('font-size',20).attr('font-family','Liberation Sans').attr('fill','#000'));
  g.append('g').attr('transform','translate('+frame.x0+',0)')
    .call(d3.axisLeft(y).tickValues(latTicks).tickSize(8).tickFormat('')).call(tickStyle);
  g.append('g').attr('transform','translate('+frame.x1+',0)')
    .call(d3.axisRight(y).tickValues(latTicks).tickSize(8).tickFormat(fmtLat)).call(tickStyle)
    .call(s => s.selectAll('text').attr('font-size',18).attr('font-family','Liberation Sans').attr('fill','#000')
      .attr('text-anchor','middle').attr('x',0).attr('dy',0)
      .attr('transform','translate('+latOffset+',0) rotate(-90) translate(0,6)'));
}

drawMap('B',{x0:549,y0:42,x1:1100,y1:386},[601,1079.5],[107,298],16,wetBase,wetZones,'blurWet',wetPatches,wetStations);
drawMap('C',{x0:556,y0:459,x1:1105,y1:803},[610,1088],[522.4,713.4],14,dryBase,dryZones,'blurDry',[],[]);

addText(830,31,'Período chuvoso (outubro-março)',22,393,{anchor:'middle',bold:true});
addText(830,444,'Período seco (abril-setembro)',22,343,{anchor:'middle',bold:true});
addText(1041,82,'(b)',21,29,{bold:true});
addText(1043,512,'(c)',21,29,{bold:true});

/* ---- rose ---- */
const rose = svg.append('g').attr('transform','translate(280,372)');
rose.append('circle').attr('r',23).attr('fill','none').attr('stroke','#000').attr('stroke-width',2.2);
rose.append('circle').attr('r',19.5).attr('fill','none').attr('stroke','#000').attr('stroke-width',0.8);
d3.range(8).forEach(i => {
  const long = i%2 === 0, a = i*45, r = long ? 30 : 21, hw = long ? 5 : 3.5;
  rose.append('path').attr('transform','rotate('+a+')')
    .attr('d','M0,0L0,'+(-r)+'L'+hw+','+(-hw)+'Z').attr('fill','#000');
  rose.append('path').attr('transform','rotate('+a+')')
    .attr('d','M0,0L0,'+(-r)+'L'+(-hw)+','+(-hw)+'Z').attr('fill','#fff').attr('stroke','#000').attr('stroke-width',0.6);
});
[['N',1,-30],['E',33,5],['S',0,36],['W',-34,4]].forEach(c => {
  rose.append('text').attr('x',c[1]).attr('y',c[2]).attr('text-anchor','middle')
    .attr('font-family','Liberation Serif').attr('font-size',11).text(c[0]);
});

/* ---- colour legend ---- */
addText(280,432,'Legenda',22.5,98,{anchor:'middle',bold:true});
addText(125,467,'Desvios de 2009 em',23.5,221);
addText(125,495,'relação à média',23.5,175);

function drawBar(id, ticks, top, bottom, xBar, lastValue, tickTop, tickBottom){
  const pos = d3.scalePoint().domain(ticks).range([tickTop,tickBottom]);
  const bar = d3.scaleLinear().domain(ticks.concat(lastValue === null ? [] : [lastValue]))
    .range(ticks.map(pos).concat(lastValue === null ? [] : [bottom]));
  const grad = defs.append('linearGradient').attr('id',id).attr('x1',0).attr('x2',0).attr('y1',0).attr('y2',1);
  const values = devStops.filter(v => v <= ticks[0] && v >= (lastValue === null ? ticks[ticks.length-1] : lastValue)).reverse();
  values.forEach(v => {
    grad.append('stop').attr('offset',(bar(v)-top)/(bottom-top)).attr('stop-color',devScale(v));
  });
  svg.append('rect').attr('x',xBar).attr('y',top).attr('width',22).attr('height',bottom-top).attr('fill','url(#'+id+')');
  svg.append('g').attr('transform','translate('+(xBar+22)+',0)')
    .call(d3.axisRight(pos).tickSize(3).tickPadding(3))
    .call(s => s.select('.domain').remove())
    .call(s => s.selectAll('line').attr('stroke','#444'))
    .call(s => s.selectAll('text').attr('font-size',23).attr('font-family','Liberation Sans').attr('fill','#000'));
}
drawBar('barHigh',legendHigh,511,782,125,80,513,750);
drawBar('barLow',legendLow,459,730,369,null,460,731);

addText(32,811,'Fonte de dados: Rede Hidrometeorológica Nacional (2019);',18,513);
addText(32,830,'SIGA CEIVAP (2019); IBGE (2019)  Datum: SIRGAS 2000',18,498);
</script>
</body>
</html>
